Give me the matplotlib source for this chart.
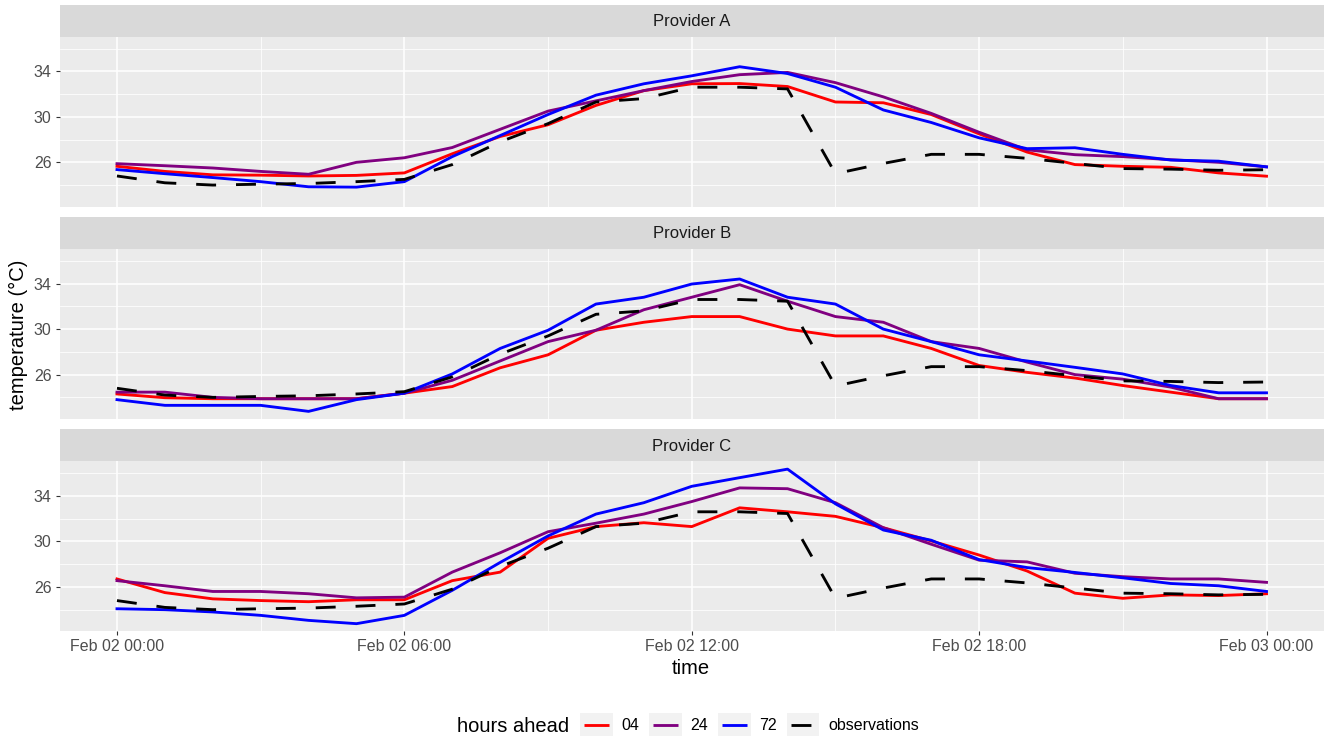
import numpy as np
import pandas as pd
import matplotlib
matplotlib.use("Agg")
import matplotlib.pyplot as plt
import matplotlib.dates as mdates
from matplotlib.lines import Line2D
from matplotlib.patches import Rectangle
from matplotlib.legend_handler import HandlerLine2D

plt.rcParams["font.family"] = ["Liberation Sans", "DejaVu Sans"]

# === Data: hourly forecasts per provider and lead time, plus observations ===
times = pd.date_range("2021-02-02 00:00", "2021-02-03 00:00", freq="h")

observations = [24.8, 24.2, 24.0, 24.08, 24.14, 24.3, 24.5, 25.8, 27.8, 29.4, 31.3, 31.6,
                32.6, 32.6, 32.45, 25.0, 25.9, 26.7, 26.7, 26.35, 25.9, 25.45, 25.4, 25.3, 25.35]

providers = ["Provider A", "Provider B", "Provider C"]
lead_labels = ["04", "24", "72"]

a_04 = [25.65, 25.2, 24.9, 24.87, 24.8, 24.85, 25.07, 26.75, 28.27, 29.3, 31.0, 32.3,
        32.9, 32.92, 32.66, 31.3, 31.23, 30.2, 28.5, 26.9, 25.8, 25.65, 25.56, 25.07, 24.78]
a_24 = [25.88, 25.7, 25.5, 25.2, 24.95, 26.0, 26.4, 27.3, 28.9, 30.5, 31.4, 32.3,
        33.1, 33.7, 33.9, 33.0, 31.75, 30.3, 28.64, 27.1, 26.67, 26.5, 26.23, 26.0, 25.6]
a_72 = [25.36, 25.0, 24.66, 24.3, 23.85, 23.82, 24.3, 26.5, 28.35, 30.2, 31.9, 32.9,
        33.6, 34.4, 33.8, 32.6, 30.6, 29.5, 28.15, 27.2, 27.28, 26.7, 26.2, 26.1, 25.6]

b_04 = [24.3, 23.97, 23.88, 23.88, 23.88, 23.88, 24.37, 24.95, 26.6, 27.74, 29.9, 30.6,
        31.1, 31.1, 30.0, 29.4, 29.4, 28.3, 26.8, 26.2, 25.7, 25.04, 24.46, 23.88, 23.88]
b_24 = [24.46, 24.46, 24.0, 23.88, 23.88, 23.88, 24.37, 25.5, 27.2, 28.9, 29.9, 31.7,
        32.8, 33.9, 32.45, 31.1, 30.6, 28.9, 28.3, 27.1, 26.0, 25.6, 24.9, 23.88, 23.88]
b_72 = [23.8, 23.3, 23.3, 23.3, 22.77, 23.8, 24.37, 26.06, 28.3, 29.9, 32.2, 32.8,
        33.96, 34.4, 32.8, 32.2, 30.0, 28.9, 27.74, 27.2, 26.64, 26.06, 25.04, 24.4, 24.4]

c_04 = [26.7, 25.5, 24.95, 24.8, 24.7, 24.87, 24.87, 26.55, 27.3, 30.27, 31.3, 31.64,
        31.3, 32.95, 32.6, 32.2, 31.2, 30.04, 28.8, 27.4, 25.45, 25.0, 25.3, 25.24, 25.4]
c_24 = [26.55, 26.1, 25.6, 25.6, 25.4, 25.04, 25.1, 27.3, 29.0, 30.85, 31.6, 32.4,
        33.5, 34.7, 34.63, 33.4, 31.2, 29.75, 28.35, 28.2, 27.2, 26.9, 26.7, 26.7, 26.4]
c_72 = [24.08, 24.0, 23.8, 23.5, 23.06, 22.77, 23.5, 25.7, 28.15, 30.48, 32.4, 33.4,
        34.84, 35.6, 36.35, 33.3, 31.0, 30.1, 28.4, 27.7, 27.27, 26.8, 26.3, 26.1, 25.6]

forecasts = {
    "Provider A": [a_04, a_24, a_72],
    "Provider B": [b_04, b_24, b_72],
    "Provider C": [c_04, c_24, c_72],
}

lead_colors = ["#FF0000", "#800080", "#0000FF"]
LW = 2.05
OBS_DASH = [7, 7]

# === Layout (pixels) ===
W, H = 1331, 740
fig = plt.figure(figsize=(W / 100, H / 100), dpi=100)

def px_box(left, top, right, bottom):
    return [left / W, 1 - bottom / H, (right - left) / W, (bottom - top) / H]

left, right = 59.5, 1324
strip_h, panel_h, gap = 32.3, 170, 10
top0 = 4.5

# shared y range with 5% padding like ggplot
all_vals = np.concatenate([np.ravel(forecasts[p]) for p in providers] + [np.array(observations)])
lo, hi = all_vals.min(), all_vals.max()
pad = 0.05 * (hi - lo)
ylim = (lo - pad, hi + pad)
x0, x1 = times[0], times[-1]
xpad = (x1 - x0) * 0.05
xlim = (x0 - xpad, x1 + xpad)

handles = []
for i, prov in enumerate(providers):
    s_top = top0 + i * (strip_h + panel_h + gap)
    p_top = s_top + strip_h
    p_bot = p_top + panel_h

    sax = fig.add_axes(px_box(left, s_top, right, p_top))
    sax.set_facecolor("#D9D9D9")
    sax.set_xticks([])
    sax.set_yticks([])
    for sp in sax.spines.values():
        sp.set_visible(False)
    sax.text(0.5, 0.47, prov, ha="center", va="center", fontsize=12, color="#1A1A1A",
             transform=sax.transAxes)

    ax = fig.add_axes(px_box(left, p_top, right, p_bot))
    ax.set_facecolor("#EBEBEB")
    for sp in ax.spines.values():
        sp.set_visible(False)

    lines = []
    for vals, col, lab in zip(forecasts[prov], lead_colors, lead_labels):
        ln, = ax.plot(times, vals, color=col, lw=LW, label=lab, solid_joinstyle="round")
        lines.append(ln)
    obs_ln, = ax.plot(times, observations, color="black", lw=LW, label="observations")
    obs_ln.set_dashes(OBS_DASH)
    lines.append(obs_ln)
    if i == 0:
        handles = lines

    ax.set_xlim(xlim)
    ax.set_ylim(ylim)

    ax.set_yticks([26, 30, 34])
    ax.set_yticks([24, 28, 32, 36], minor=True)
    ax.xaxis.set_major_locator(mdates.HourLocator(byhour=[0, 6, 12, 18]))
    ax.xaxis.set_minor_locator(mdates.HourLocator(byhour=[3, 9, 15, 21]))
    ax.xaxis.set_major_formatter(mdates.DateFormatter("%b %d %H:%M"))

    ax.grid(True, which="major", color="white", lw=1.1)
    ax.grid(True, which="minor", color="white", lw=0.55)
    ax.set_axisbelow(True)

    ax.tick_params(axis="both", which="major", length=3.2, width=0.8, color="#333333",
                   labelsize=11.5, labelcolor="#4D4D4D", pad=2.5)
    ax.tick_params(axis="both", which="minor", length=0)
    if i < 2:
        ax.tick_params(axis="x", which="major", length=0, labelbottom=False)

fig.text(18 / W, 1 - 335 / H, "temperature (°C)", rotation=90, ha="center", va="center",
         fontsize=14.5, color="black")
fig.text(691 / W, 1 - 669 / H, "time", ha="center", va="center", fontsize=14.5, color="black")


# === Legend with ggplot-style key boxes ===
class KeyHandler(HandlerLine2D):
    def create_artists(self, legend, orig_handle, xdescent, ydescent, width, height,
                       fontsize, trans):
        bg = Rectangle((-xdescent, -ydescent), width, height, facecolor="#F2F2F2",
                       edgecolor="none", transform=trans)
        ln = Line2D([-xdescent + 0.12 * width, -xdescent + 0.88 * width],
                    [-ydescent + height / 2] * 2, color=orig_handle.get_color(),
                    lw=LW, solid_capstyle="butt", transform=trans)
        if orig_handle.get_label() == "observations":
            ln.set_dashes(OBS_DASH)
        return [bg, ln]


fig.text(457 / W, 1 - 726 / H, "hours ahead", ha="left", va="center", fontsize=14.5,
         color="black")
leg = fig.legend(handles, [h.get_label() for h in handles], ncol=4, loc="center left",
                 bbox_to_anchor=(580 / W, 1 - 724.5 / H), frameon=False, fontsize=11.5,
                 handlelength=2.05, handleheight=1.8, handletextpad=0.55,
                 columnspacing=0.6, borderpad=0, borderaxespad=0,
                 handler_map={Line2D: KeyHandler()})

fig.savefig("out.png", dpi=100)
